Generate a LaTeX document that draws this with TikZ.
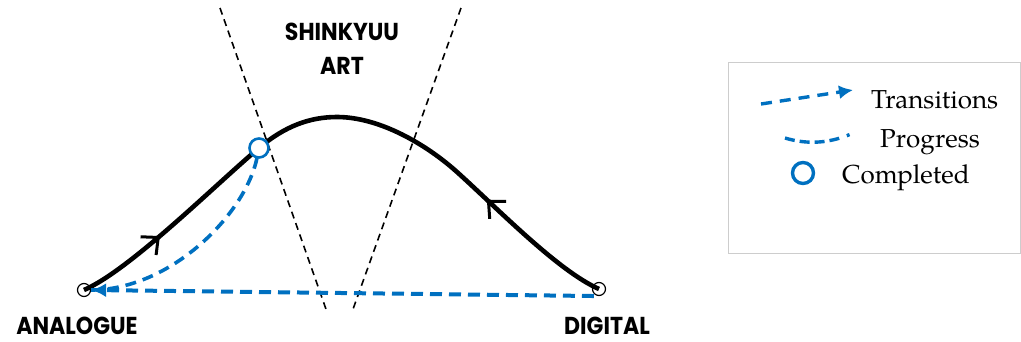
\documentclass[tikz,border=0pt]{standalone}
\usepackage{fontspec}
\usetikzlibrary{arrows.meta,decorations.markings}
\newfontfamily\labelfont{Poppins}[FakeStretch=0.9]
\newfontfamily\legendfont{texgyrepagella-regular.otf}
\definecolor{stepblue}{RGB}{0,112,192}
\definecolor{boxgray}{RGB}{205,205,205}
\tikzset{
  midbarb/.tip={Straight Barb[length=13pt,width=24pt,line width=3pt]},
  endpt/.style={circle,draw=black,line width=1.2pt,fill=white,inner sep=0pt,minimum size=13pt},
  donept/.style={circle,draw=stepblue,line width=2.6pt,fill=white,inner sep=0pt,minimum size=19pt},
  stage/.style={font=\labelfont\bfseries\fontsize{24.5}{26}\selectfont,anchor=base,inner sep=0pt,text depth=0pt},
  legtext/.style={font=\legendfont\fontsize{26}{28}\selectfont,anchor=base west,inner sep=0pt},
  divider/.style={draw=black,line width=1.6pt,dash pattern=on 7pt off 5pt},
  pathcurve/.style={draw=black,line width=4.6pt},
  trans/.style={draw=stepblue,line width=4pt,dash pattern=on 12pt off 7pt,
    -{Latex[length=15pt,width=14pt]}},
  prog/.style={draw=stepblue,line width=3.6pt,dash pattern=on 11pt off 7pt}
}
\begin{document}
\begin{tikzpicture}[x=1pt,y=-1pt]
\useasboundingbox (0,0) rectangle (1021,341);

% the two boundaries of the middle zone
\coordinate (lt) at (220,8);
\coordinate (lb) at (327,312);
\coordinate (rt) at (461,8);
\coordinate (rb) at (352,312);
\draw[divider] (lt) -- (lb);
\draw[divider] (rt) -- (rb);

% end points, the completed stage and the top of the curve
\node[endpt] (ana) at (84,290) {};
\node[endpt] (dig) at (599,289) {};
\coordinate (cmp) at (259,148);
\coordinate (top) at (337,117);
\coordinate (mid) at (457,172);

% the main path from analogue over the art stage to digital
\draw[pathcurve,postaction={decorate},
  decoration={markings,
    mark=at position 0.148 with {\arrow{midbarb}},
    mark=at position 0.772 with {\arrowreversed{midbarb}}}]
  (ana.center) .. controls (130,270) and (215,185) .. (cmp)
  .. controls (285,126) and (310,117) .. (top)
  .. controls (380,117) and (427,145) .. (mid)
  .. controls (497,208) and (558,271) .. (dig.center);

% progress and transition back to analogue
\draw[prog] (cmp) ++(-2,10) .. controls (245,215) and (170,290) .. (ana.east);
\draw[trans] (dig.south west) ++(0,2) -- (ana.east);
\node[donept] (done) at (cmp) {};

% stage labels
\node[stage] (art1) at (342,40) {SHINKYUU};
\node[stage] (art2) at (342,74) {ART};
\node[stage] (lana) at (77,334) {ANALOGUE};
\node[stage] (ldig) at (607,334) {DIGITAL};

% legend
\node[draw=boxgray,line width=1pt,minimum width=292pt,minimum height=191pt,anchor=north west,inner sep=0pt]
  (legend) at (728,62) {};
\coordinate (t0) at (761,104);
\coordinate (t1) at (853,90);
\draw[draw=stepblue,line width=3.4pt,dash pattern=on 11pt off 8pt,
  -{Latex[length=14pt,width=14pt]}] (t0) -- (t1);
\node[legtext] (ltr) at (871,108) {Transitions};
\coordinate (p0) at (785,138);
\coordinate (p1) at (851,134);
\draw[draw=stepblue,line width=3.4pt,dash pattern=on 10pt off 5pt on 10pt off 5pt on 10pt off 5pt on 10pt off 8pt on 3pt off 20pt]
  (p0) .. controls (808,145) and (830,143) .. (p1);
\node[legtext] (lpr) at (880,147) {Progress};
\node[circle,draw=stepblue,line width=3.4pt,inner sep=0pt,minimum size=21pt] (lcm) at (803,173) {};
\node[legtext] (lco) at (842,183) {Completed};
\end{tikzpicture}
\end{document}
